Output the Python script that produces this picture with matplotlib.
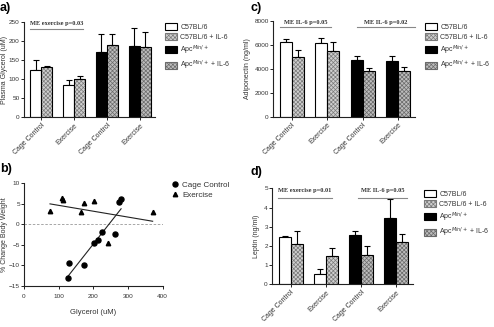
import matplotlib
matplotlib.use("Agg")
import matplotlib.pyplot as plt
import numpy as np
from matplotlib.patches import Patch
from matplotlib.lines import Line2D

plt.rcParams['font.family'] = ['Liberation Sans', 'DejaVu Sans']
plt.rcParams['hatch.linewidth'] = 0.5

# ---------------- data ----------------
group_labels = ["Cage Control", "Exercise", "Cage Control", "Exercise"]
legend_labels = ["C57BL/6", "C57BL/6 + IL-6", "Apc$^{Min/+}$", "Apc$^{Min/+}$ + IL-6"]

glycerol_plain = [125, 84, 171, 186]
glycerol_plain_err = [26, 14, 46, 48]
glycerol_il6 = [131, 99, 189, 185]
glycerol_il6_err = [4, 8, 28, 39]

adipo_plain = [6270, 6190, 4770, 4680]
adipo_plain_err = [225, 360, 305, 390]
adipo_il6 = [4990, 5490, 3820, 3820]
adipo_il6_err = [560, 725, 250, 335]

leptin_plain = [2.45, 0.52, 2.59, 3.47]
leptin_plain_err = [0.08, 0.28, 0.21, 0.96]
leptin_il6 = [2.08, 1.49, 1.55, 2.20]
leptin_il6_err = [0.70, 0.39, 0.42, 0.40]

cage_x = [128, 130, 174, 202, 213, 226, 263, 273, 280]
cage_y = [-13.2, -9.5, -10.0, -4.6, -3.8, -2.0, -2.4, 5.45, 6.2]
ex_x = [75, 110, 112, 163, 174, 202, 241, 371]
ex_y = [3.3, 6.3, 5.95, 2.9, 5.1, 5.7, -4.6, 3.0]

W, H = 494, 327
fig = plt.figure(figsize=(W / 100, H / 100), dpi=100)

def ax_px(l, t, r, b):
    return fig.add_axes([l / W, 1 - b / H, (r - l) / W, (b - t) / H])

axa = ax_px(24, 21.7, 155, 117.3)
axc = ax_px(273, 21.0, 414.7, 116.7)
axb = ax_px(24, 183.3, 162.7, 285.7)
axd = ax_px(272, 188.3, 413, 284.3)

TXT = '#333333'
plain_faces = ['white', 'white', 'black', 'black']
il6_face = ['#cfcfcf', '#cfcfcf', '#bdbdbd', '#bdbdbd']
il6_hatch = ['#7a7a7a', '#7a7a7a', '#6a6a6a', '#6a6a6a']
HATCH = 'xxxxxxxx'

def style_axes(ax):
    for s in ['top', 'right']:
        ax.spines[s].set_visible(False)
    for s in ['left', 'bottom']:
        ax.spines[s].set_linewidth(0.8)
        ax.spines[s].set_color('#222222')
    ax.tick_params(axis='both', labelsize=4.6, colors='#222222', labelcolor=TXT,
                   length=2, width=0.7, pad=1)

def ylabel_px(text, x, y):
    fig.text(x / W, 1 - y / H, text, rotation=90, ha='center', va='center',
             fontsize=5, color=TXT)

def bar_panel(ax, plain, plain_err, il6, il6_err, ylim, yticks, w=0.34):
    x = np.arange(len(group_labels))
    xl = x - w / 2
    xr = x + w / 2
    ax.bar(xl, plain, width=w, color=plain_faces, edgecolor='black', linewidth=0.8, zorder=2)
    ax.bar(xr, il6, width=w, color=il6_face, edgecolor=il6_hatch, hatch=HATCH, linewidth=0, zorder=2)
    ax.bar(xr, il6, width=w, color='none', edgecolor='black', linewidth=0.8, zorder=3)
    z = np.zeros(len(x))
    ax.errorbar(xl, plain, yerr=[z, plain_err], fmt='none', ecolor='black', elinewidth=0.8,
                capsize=2.5, capthick=0.8, zorder=1)
    ax.errorbar(xr, il6, yerr=[z, il6_err], fmt='none', ecolor='black', elinewidth=0.8,
                capsize=2.5, capthick=0.8, zorder=1)
    ax.set_xlim(-0.53, 3.47)
    ax.set_ylim(*ylim)
    ax.set_yticks(yticks)
    ax.set_xticks(x)
    ax.set_xticklabels(group_labels, rotation=45, ha='right', rotation_mode='anchor')
    style_axes(ax)
    ax.tick_params(axis='x', labelsize=5, pad=1.5)

def annot(ax, x0, x1, y_line, y_text, text):
    ax.plot([x0, x1], [y_line, y_line], color='#888888', lw=0.8, clip_on=False)
    ax.text((x0 + x1) / 2, y_text, text, ha='center', va='center', fontsize=4.6,
            family='Liberation Serif', fontweight='bold', color='#333333', clip_on=False)

bar_panel(axa, glycerol_plain, glycerol_plain_err, glycerol_il6, glycerol_il6_err,
          (0, 250), [0, 50, 100, 150, 200, 250], w=0.336)
ylabel_px('Plasma Glycerol (uM)', 5, 69.5)
annot(axa, -0.36, 1.28, 231, 244, 'ME exercise p=0.03')

bar_panel(axc, adipo_plain, adipo_plain_err, adipo_il6, adipo_il6_err,
          (0, 8000), [0, 2000, 4000, 6000, 8000])
ylabel_px('Adiponectin (ng/ml)', 247, 69)
annot(axc, -0.34, 1.12, 7470, 7860, 'ME IL-6 p=0.05')
annot(axc, 1.83, 3.49, 7470, 7860, 'ME IL-6 p=0.02')

bar_panel(axd, leptin_plain, leptin_plain_err, leptin_il6, leptin_il6_err,
          (0, 5), [0, 1, 2, 3, 4, 5])
ylabel_px('Leptin (ng/ml)', 257, 236)
annot(axd, -0.36, 1.17, 4.48, 4.86, 'ME exercise p=0.01')
annot(axd, 1.9, 3.31, 4.48, 4.86, 'ME IL-6 p=0.05')

# scatter panel b
axb.axhline(0, color='#999999', lw=0.6, ls=(0, (3, 2)), zorder=1)
axb.plot(cage_x, cage_y, 'o', color='black', ms=3.6, zorder=3)
axb.plot(ex_x, ex_y, '^', color='black', ms=3.2, zorder=3)
for xs, ys in [(cage_x, cage_y), (ex_x, ex_y)]:
    k, c = np.polyfit(xs, ys, 1)
    xx = np.array([min(xs), max(xs)])
    axb.plot(xx, k * xx + c, color='#222222', lw=0.8, zorder=2)
axb.set_xlim(0, 400)
axb.set_ylim(-15, 10)
axb.set_xticks([0, 100, 200, 300, 400])
axb.set_yticks([-15, -10, -5, 0, 5, 10])
axb.set_xlabel('Glycerol (uM)', fontsize=5.5, color=TXT, labelpad=7)
style_axes(axb)
axb.tick_params(axis='x', pad=4)
ylabel_px('% Change Body Weight', 5, 234.5)

# legends
def bar_handles():
    return [Patch(facecolor='white', edgecolor='black', linewidth=0.8),
            Patch(facecolor=il6_face[0], edgecolor=il6_hatch[0], hatch=HATCH, linewidth=0.8),
            Patch(facecolor='black', edgecolor='black', linewidth=0.8),
            Patch(facecolor=il6_face[2], edgecolor=il6_hatch[2], hatch=HATCH, linewidth=0.8)]

for (x0, y0) in [(165, 23), (425, 23), (424, 190)]:
    fig.legend(bar_handles(), legend_labels, loc='upper left',
               bbox_to_anchor=(x0 / W, 1 - y0 / H), frameon=False, fontsize=5,
               handlelength=1.7, handleheight=1.1, handletextpad=0.5, labelspacing=0.35,
               borderpad=0, borderaxespad=0, labelcolor=TXT)

fig.legend([Line2D([], [], marker='o', ls='none', color='black', ms=3.6),
            Line2D([], [], marker='^', ls='none', color='black', ms=3.2)],
           ['Cage Control', 'Exercise'], loc='upper left',
           bbox_to_anchor=(171 / W, 1 - 181 / H), frameon=False, fontsize=5.8,
           handlelength=1.0, handletextpad=0.4, labelspacing=0.3,
           borderpad=0, borderaxespad=0, labelcolor=TXT)

# panel labels
for txt, x, y in [('a)', 0, 2), ('c)', 250, 2), ('b)', 0, 163), ('d)', 250, 166)]:
    fig.text(x / W, 1 - y / H, txt, ha='left', va='top', fontsize=9, fontweight='bold',
             color='black')

fig.savefig('out.png', dpi=100)
